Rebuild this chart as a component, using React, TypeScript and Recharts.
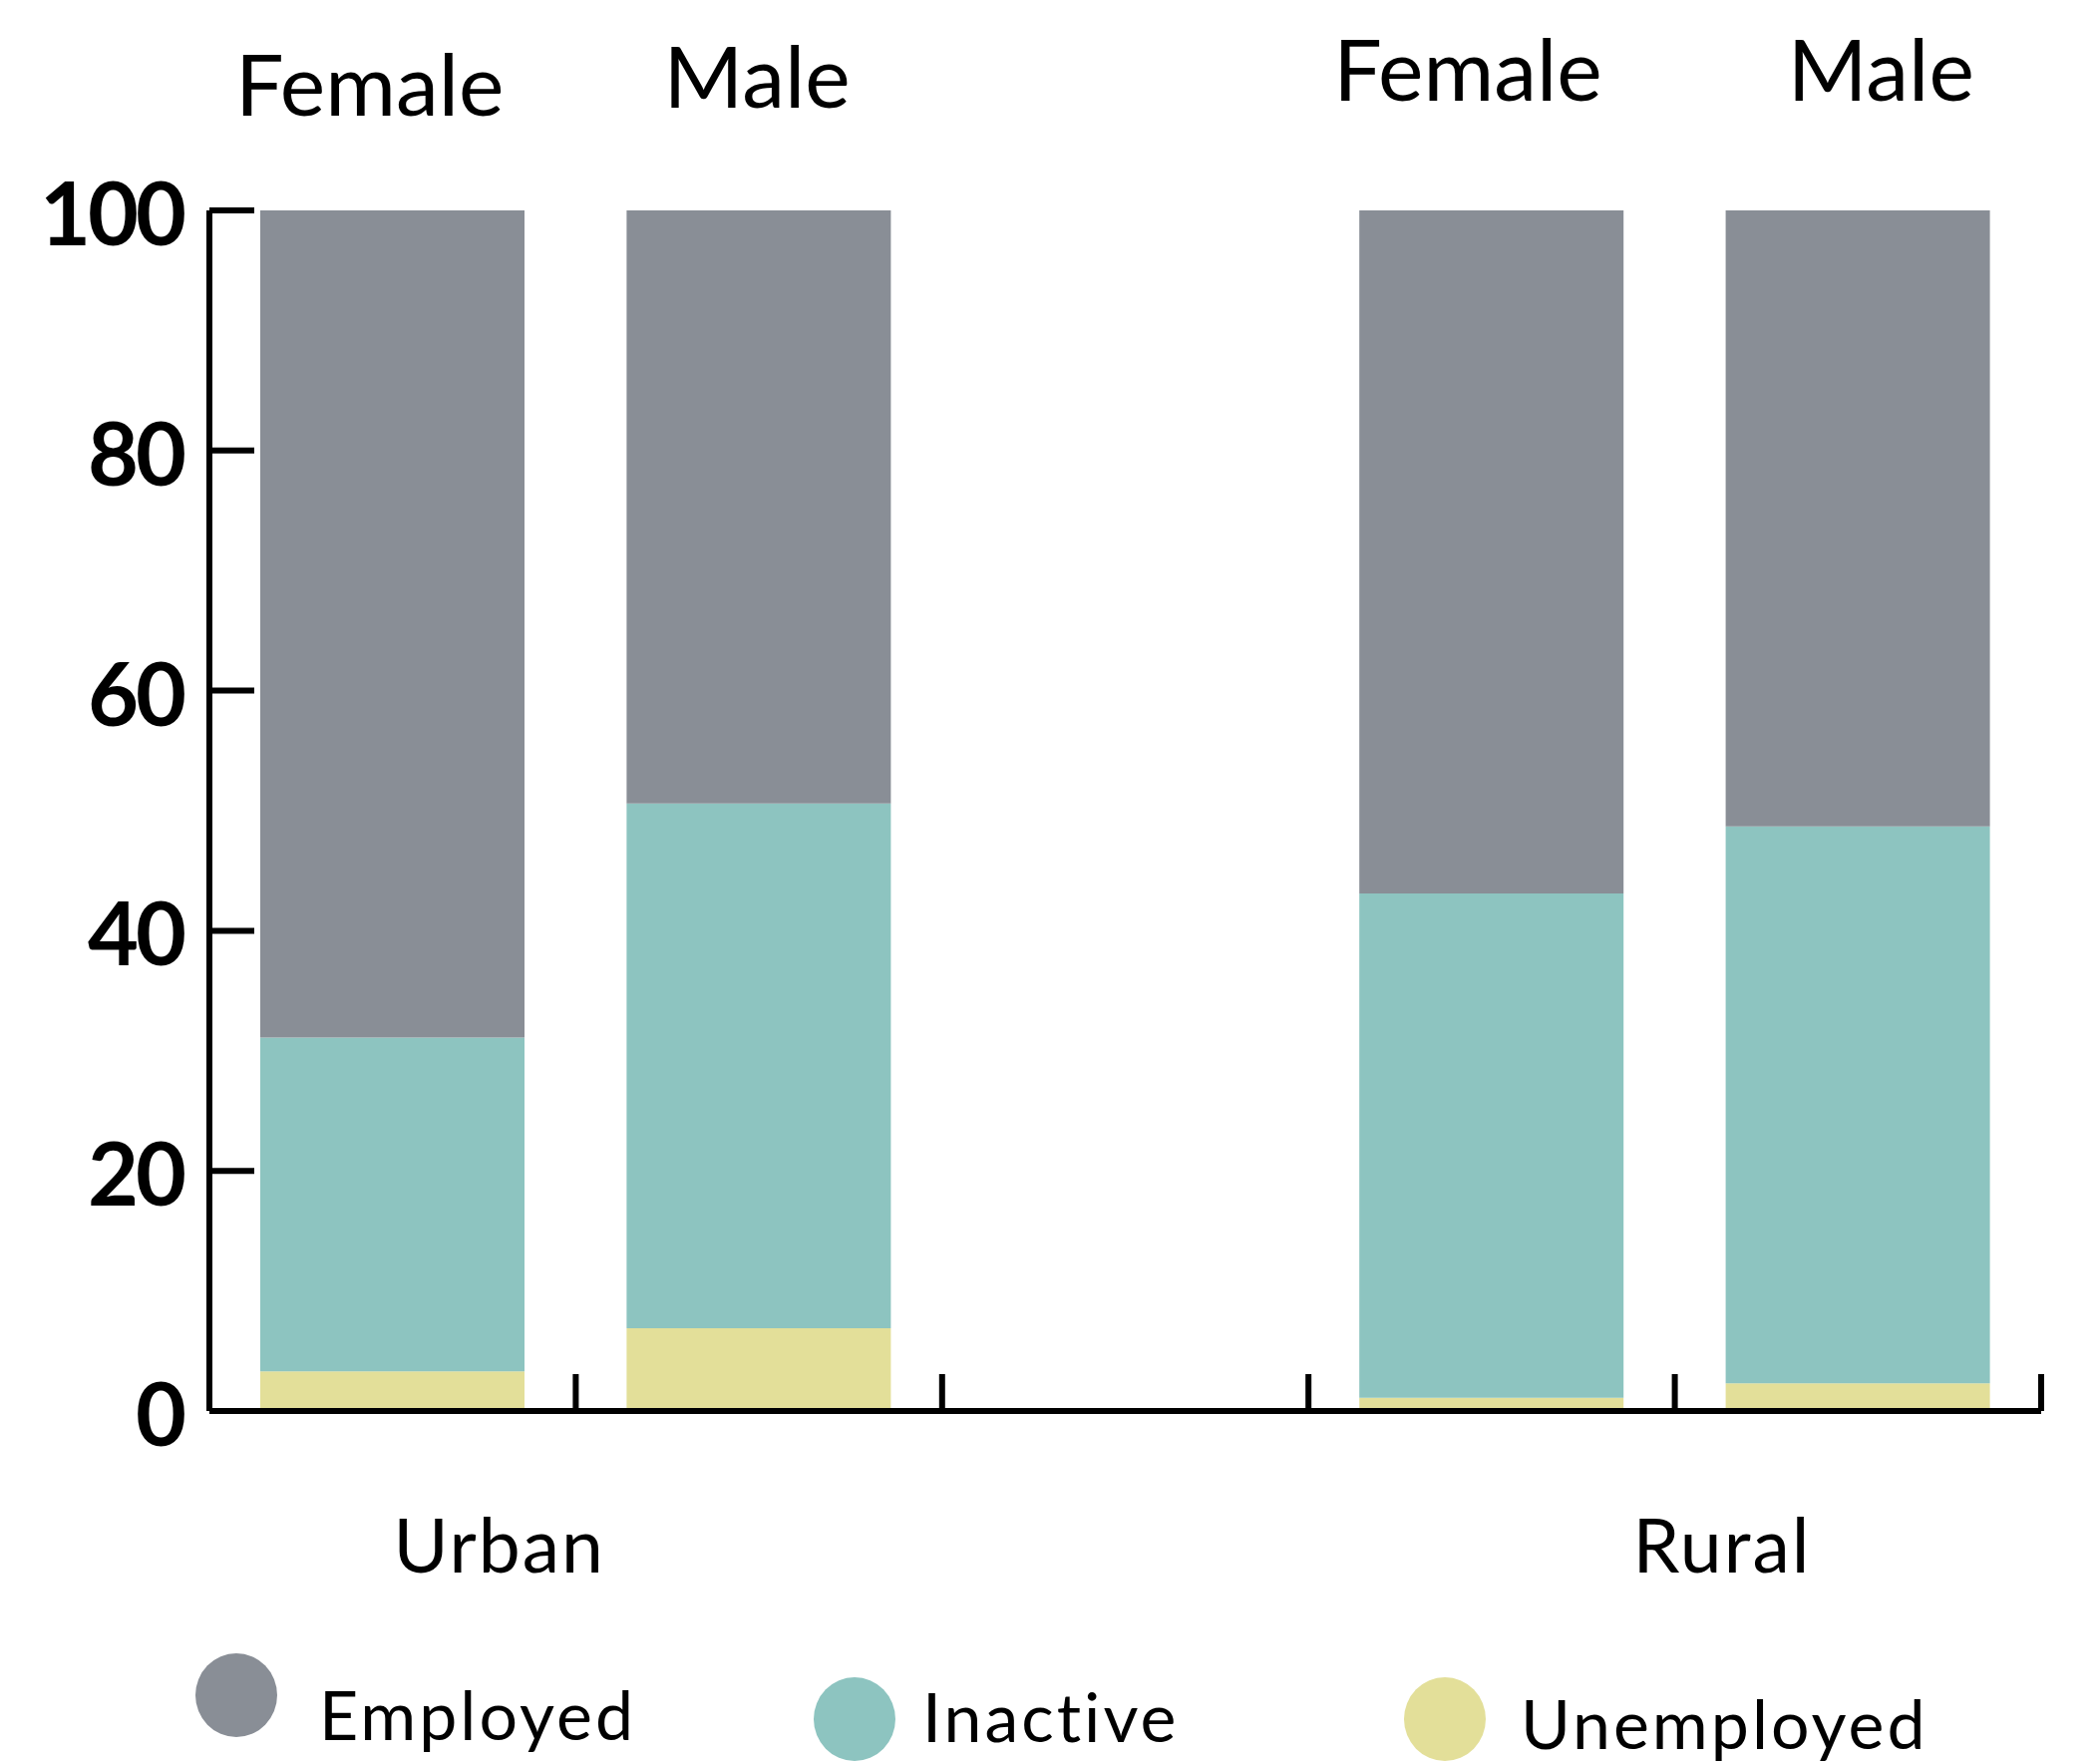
import { BarChart, Bar, XAxis, YAxis } from 'recharts';

// values (percent of population)
const categories = ['Female', 'Male', '', 'Female', 'Male'];
const groups = ['Urban', '', '', 'Rural', ''];
const employed = [68.9, 49.4, null, 56.9, 51.3];
const inactive = [27.8, 43.7, null, 42.0, 46.4];
const unemployed = [3.3, 6.9, null, 1.1, 2.3];
const yTicks = [0, 20, 40, 60, 80, 100];

const series = [
  { key: 'unemployed', name: 'Unemployed', color: '#e3df99' },
  { key: 'inactive', name: 'Inactive', color: '#8dc4c0' },
  { key: 'employed', name: 'Employed', color: '#898e96' },
];

const W = 2106;
const H = 1767;
// axes are 1px thick boxes, so margins are 1px short of the plot edges
const MARGIN = { top: 210, right: 59, bottom: 351, left: 209 };
const PLOT_W = W - 210 - 59;
const HALF_BAND = PLOT_W / categories.length / 2;
const FONT = 'Lato, "Open Sans", sans-serif';
const LINE_W = 6;

// small nudges so the labels sit where the original put them
const topShift = [-23, -2, 0, -24, 23];
const topLift = [-95, -103, 0, -110, -110];
const groupShift = [107, 0, 0, 231, 0];

const rows = categories.map((c, i) => ({
  gender: c,
  group: groups[i],
  employed: employed[i],
  inactive: inactive[i],
  unemployed: unemployed[i],
}));

const legendItems = [
  { name: 'Employed', color: '#898e96', cx: 237, cy: 1700, tx: 320, ty: 1745 },
  { name: 'Inactive', color: '#8dc4c0', cx: 857, cy: 1724, tx: 925, ty: 1747 },
  { name: 'Unemployed', color: '#e3df99', cx: 1449, cy: 1724, tx: 1525, ty: 1754 },
];

function YTick(props: any) {
  const { x, y, payload } = props;
  return (
    <g>
      <line x1={x} x2={x + 45} y1={y} y2={y} stroke="#000" strokeWidth={LINE_W} />
      <text x={x - 26} y={y} dy={35} textAnchor="end" fontFamily={FONT} fontWeight={700}
        fontSize={88} letterSpacing={-3} fill="#000">
        {payload.value}
      </text>
    </g>
  );
}

function TopTick(props: any) {
  const { x, y, payload, index } = props;
  if (!payload.value) return null;
  return (
    <text x={x + topShift[index]} y={y + topLift[index]} textAnchor="middle" fontFamily={FONT}
      fontSize={86} fill="#000">
      {payload.value}
    </text>
  );
}

function BottomTick(props: any) {
  const { x, y, index } = props;
  const g = groups[index];
  return (
    <g>
      <line x1={x + HALF_BAND} x2={x + HALF_BAND} y1={y} y2={y - 37} stroke="#000" strokeWidth={LINE_W} />
      {g ? (
        <text x={x + groupShift[index]} y={y + 162} textAnchor="middle" fontFamily={FONT}
          fontSize={75} letterSpacing={2} fill="#000">
          {g}
        </text>
      ) : null}
    </g>
  );
}

export default function App() {
  return (
    <div style={{ position: 'absolute', left: 0, top: 0, width: W, height: H, background: '#fff', overflow: 'hidden' }}>
      <BarChart width={W} height={H} data={rows} margin={MARGIN} barSize={265}>
        <XAxis dataKey="gender" xAxisId={0} height={1} tickSize={0} tickMargin={0} interval={0}
          axisLine={{ stroke: '#000', strokeWidth: LINE_W }} tickLine={false} tick={<BottomTick />} />
        <XAxis dataKey="gender" xAxisId="top" orientation="top" height={1} tickSize={0} tickMargin={0}
          interval={0} axisLine={false} tickLine={false} tick={<TopTick />} />
        <YAxis domain={[0, 100]} ticks={yTicks} width={1} tickSize={0} tickMargin={0} interval={0}
          axisLine={{ stroke: '#000', strokeWidth: LINE_W }} tickLine={false} tick={<YTick />} />
        {series.map((s) => (
          <Bar key={s.key} dataKey={s.key} name={s.name} stackId="a" fill={s.color} isAnimationActive={false} />
        ))}
      </BarChart>
      <svg width={W} height={H} style={{ position: 'absolute', left: 0, top: 0, pointerEvents: 'none' }}>
        {legendItems.map((l) => (
          <g key={l.name}>
            <ellipse cx={l.cx} cy={l.cy} rx={41} ry={42} fill={l.color} />
            <text x={l.tx} y={l.ty} fontFamily={FONT} fontSize={68} letterSpacing={3} fill="#000">{l.name}</text>
          </g>
        ))}
      </svg>
    </div>
  );
}
